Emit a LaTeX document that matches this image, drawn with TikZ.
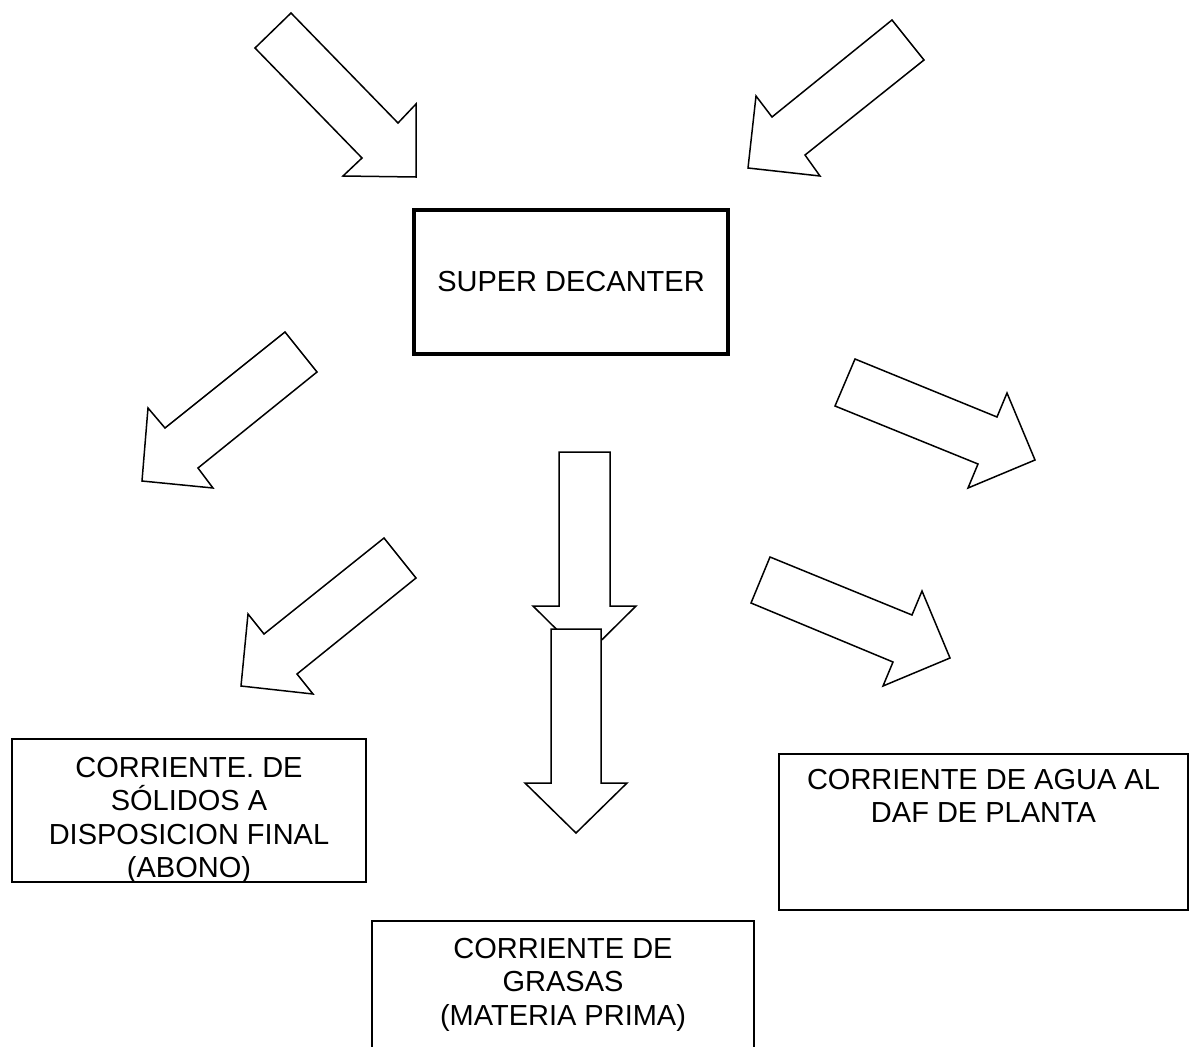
\documentclass[tikz,border=0pt]{standalone}
\usepackage{fontspec}
\setmainfont{Liberation Sans}
\begin{document}
\begin{tikzpicture}[x=1pt,y=-1pt,
  blockarrow/.style={draw=black,fill=white,line width=1.5pt,line join=miter},
  box/.style={draw=black,line width=1.6pt,fill=white,inner sep=0pt,rectangle},
  txt/.style={font=\fontsize{29}{33.5}\selectfont,align=center,inner sep=0pt,anchor=north}]
\useasboundingbox[fill=white] (0,0) rectangle (1197,1047);
% incoming arrows
\draw[blockarrow] (291,13) -- (398,123) -- (416,104) -- (416,177) -- (343,176) -- (362,158) -- (255,48) -- cycle;
\draw[blockarrow] (892,20) -- (924,60) -- (805,155) -- (820,176) -- (748,168) -- (756,96) -- (772,117) -- cycle;
% decanter
\node[box,line width=4pt,minimum width=314,minimum height=144,font=\fontsize{29}{33.5}\selectfont] (dec) at (571,282) {SUPER DECANTER};
% outgoing arrows
\draw[blockarrow] (285,332) -- (317,372) -- (198,468) -- (213,488) -- (142,481) -- (148,408) -- (165,428) -- cycle;
\draw[blockarrow] (855,359) -- (997,417) -- (1007,393) -- (1035,460) -- (968,488) -- (978,464) -- (835,406) -- cycle;
\draw[blockarrow] (384,538) -- (416,578) -- (297,674) -- (313,694) -- (241,686) -- (248,614) -- (264,634) -- cycle;
\draw[blockarrow] (770,557) -- (912,615) -- (922,591) -- (950,658) -- (883,686) -- (893,662) -- (751,603) -- cycle;
\draw[blockarrow] (559,452) -- (610,452) -- (610,606) -- (636,606) -- (584.5,657) -- (533,606) -- (559,606) -- cycle;
\draw[blockarrow] (551,629) -- (601,629) -- (601,783) -- (627,783) -- (576,833) -- (525,783) -- (551,783) -- cycle;
% destination boxes
\node[box,minimum width=354,minimum height=143] (sol) at (189,810.5) {};
\node[txt] (soltxt) at (189,757) {CORRIENTE. DE\\SÓLIDOS A\\DISPOSICION FINAL\\(ABONO)};
\node[box,minimum width=409,minimum height=156] (agua) at (983.5,832) {};
\node[txt] (aguatxt) at (983.5,769) {CORRIENTE DE AGUA AL\\DAF DE PLANTA};
\node[box,minimum width=382,minimum height=160,anchor=north] (gras) at (563,920) {};
\node[txt] (grastxt) at (563,938) {CORRIENTE DE\\GRASAS\\(MATERIA PRIMA)};
\end{tikzpicture}
\end{document}
